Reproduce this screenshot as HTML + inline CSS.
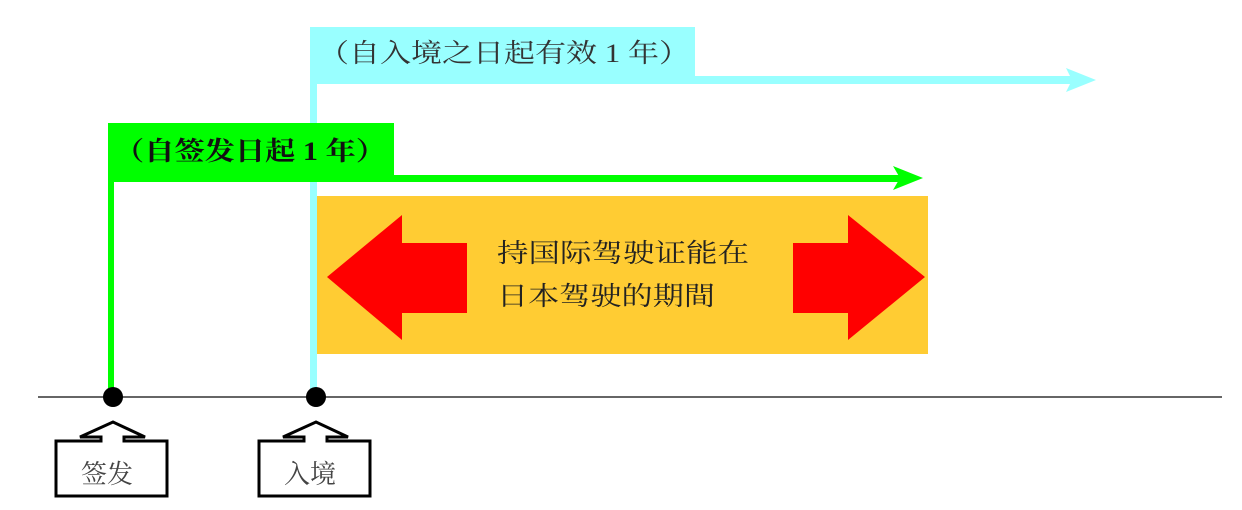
<!DOCTYPE html>
<html><head><meta charset="utf-8"><style>
html,body{margin:0;padding:0;background:#fff;}
svg{display:block;}
text{font-family:"Liberation Serif","Noto Serif CJK SC","Noto Sans CJK SC",serif;}
</style></head><body>
<svg width="1242" height="510" viewBox="0 0 1242 510" xmlns="http://www.w3.org/2000/svg">
<!-- cyan -->
<rect x="310" y="27" width="385" height="50" fill="#99ffff"/>
<rect x="310" y="27" width="7" height="370" fill="#99ffff"/>
<rect x="310" y="76" width="770" height="8" fill="#99ffff"/>
<polygon points="1066,68 1096,80 1066,92 1072,80" fill="#99ffff"/>
<text x="318" y="62" font-size="26" fill="#333" textLength="372" lengthAdjust="spacingAndGlyphs">（自入境之日起有效 1 年）</text>
<!-- green -->
<rect x="108" y="123" width="286" height="55" fill="#00ff00"/>
<rect x="108" y="123" width="6" height="274" fill="#00ff00"/>
<rect x="108" y="175" width="800" height="7" fill="#00ff00"/>
<polygon points="893,166 923,178 893,190 900,178" fill="#00ff00"/>
<text x="114" y="160" font-size="26" font-weight="bold" fill="#111" textLength="272" lengthAdjust="spacingAndGlyphs">（自签发日起 1 年）</text>
<!-- orange -->
<rect x="317" y="196" width="611" height="158" fill="#ffcc33"/>
<polygon points="327,277 402,215 402,243 467,243 467,313 402,313 402,340" fill="#ff0000"/>
<polygon points="925,277 848,215 848,243 793,243 793,313 848,313 848,340" fill="#ff0000"/>
<text x="497" y="262" font-size="26" fill="#222" textLength="252" lengthAdjust="spacingAndGlyphs">持国际驾驶证能在</text>
<text x="497" y="305" font-size="26" fill="#222" textLength="218" lengthAdjust="spacingAndGlyphs">日本驾驶的期間</text>
<!-- timeline -->
<line x1="38" y1="397" x2="1222" y2="397" stroke="#333" stroke-width="1.5"/>
<circle cx="113" cy="397" r="10" fill="#000"/>
<circle cx="316" cy="397" r="10" fill="#000"/>
<!-- labels -->
<path d="M56,441 H101 V437 H80 L113,422 L145,437 H124 V441 H167 V496 H56 Z" fill="#fff" stroke="#000" stroke-width="3"/>
<path d="M259,441 H304 V437 H283 L316,422 L348,437 H327 V441 H370 V496 H259 Z" fill="#fff" stroke="#000" stroke-width="3"/>
<text x="81" y="483" font-size="26" fill="#444">签发</text>
<text x="284" y="483" font-size="26" fill="#444">入境</text>
</svg>
</body></html>
